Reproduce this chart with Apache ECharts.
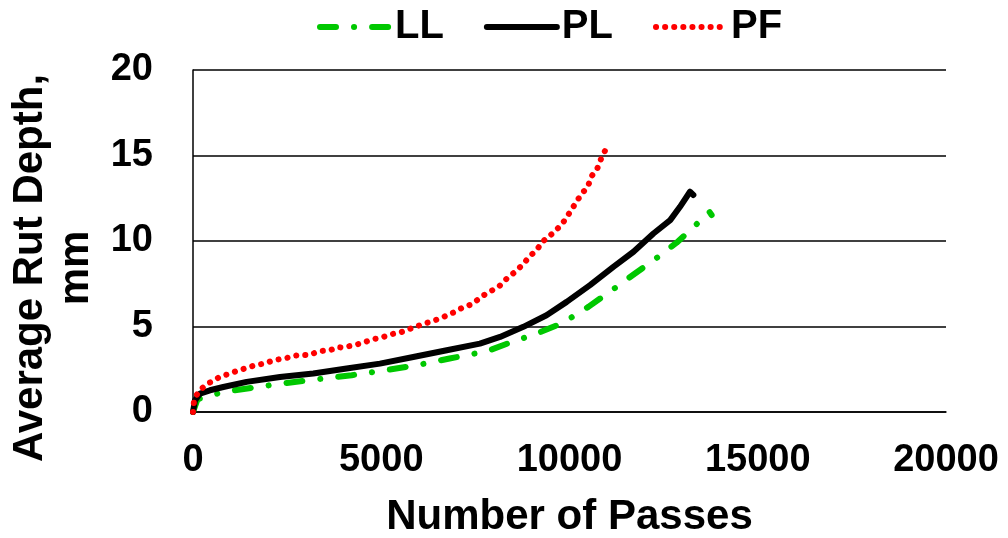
<!DOCTYPE html>
<html>
<head>
<meta charset="utf-8">
<script src="https://cdn.jsdelivr.net/npm/echarts@6/dist/echarts.min.js"></script>
<style>
  html, body { margin: 0; padding: 0; background: #fff; }
  #chart { width: 1008px; height: 538px; }
</style>
</head>
<body>
<div id="chart"></div>
<script>
// Rut depth vs passes, three mixes.
const llPasses = [0, 120, 805, 1690, 2490, 3240, 4215, 5100, 5940, 6815, 7490, 7800, 8400, 9085, 9820, 10500, 11190, 11740, 12300, 12845, 13290, 13715, 13775];
const llDepth  = [0, 0.75, 1.17, 1.46, 1.7, 1.9, 2.15, 2.44, 2.73, 3.13, 3.42, 3.55, 4.04, 4.55, 5.21, 6.15, 7.22, 8.1, 8.98, 9.9, 10.8, 11.71, 11.52];

const plPasses = [0, 53, 186, 450, 805, 1425, 2310, 3195, 4080, 4965, 5850, 6740, 7620, 8155, 8775, 9390, 9925, 10545, 11165, 11700, 12230, 12675, 12935, 13200, 13290];
const plDepth  = [0, 0.68, 1.08, 1.27, 1.46, 1.76, 2.05, 2.25, 2.54, 2.83, 3.22, 3.61, 4.0, 4.39, 4.98, 5.66, 6.44, 7.42, 8.49, 9.37, 10.44, 11.22, 12.0, 12.88, 12.69];

const pfPasses = [0, 30, 160, 380, 540, 735, 920, 1115, 1290, 1495, 1715, 1910, 2135, 2310, 2490, 2665, 2885, 3065, 3265, 3420, 3640, 3840, 3975, 4240, 4505, 4745, 5010, 5275, 5540, 5835, 6115, 6410, 6720, 6940, 7180, 7420, 7650, 7890, 8110, 8330, 8535, 8755, 8925, 9130, 9305, 9465, 9615, 9820, 9995, 10175, 10330, 10475, 10590, 10740, 10855, 10950];
const pfDepth  = [0, 0.73, 1.23, 1.66, 1.82, 2.09, 2.2, 2.36, 2.48, 2.63, 2.77, 2.83, 3.03, 3.09, 3.16, 3.28, 3.36, 3.32, 3.48, 3.57, 3.61, 3.79, 3.77, 3.89, 4.04, 4.24, 4.36, 4.55, 4.68, 4.92, 5.15, 5.35, 5.62, 5.84, 6.13, 6.31, 6.73, 7.05, 7.3, 7.79, 8.16, 8.61, 9.06, 9.49, 10.0, 10.29, 10.56, 11.05, 11.63, 12.26, 12.79, 13.12, 13.8, 14.25, 14.9, 15.3];

const xTicks = [0, 5000, 10000, 15000, 20000];
const yTicks = [0, 5, 10, 15, 20];

const FONT = '"Liberation Sans", Arial, sans-serif';
const pairs = (xs, ys) => xs.map((x, i) => [x, ys[i]]);

const chart = echarts.init(document.getElementById('chart'), null, { renderer: 'canvas' });

const styles = {
  LL: { color: '#00c800', type: [16, 18, 0.1, 18] },
  PL: { color: '#000000', type: 'solid' },
  PF: { color: '#ff0000', type: [0.1, 9] },
};
const mkLine = (name, data) => ({
  name, type: 'line', data,
  symbol: 'none', smooth: false, animation: false,
  lineStyle: { color: styles[name].color, width: 6, type: styles[name].type, cap: 'round', join: 'round' },
  itemStyle: { color: styles[name].color },
});

chart.setOption({
  animation: false,
  backgroundColor: '#fff',
  textStyle: { fontFamily: FONT },
  legend: {
    top: 2, left: 312,
    itemWidth: 70, itemHeight: 20, itemGap: 40,
    itemStyle: { opacity: 0 },
    lineStyle: { width: 6 },
    textStyle: { fontFamily: FONT, fontSize: 40, fontWeight: 'bold', color: '#000' },
    data: ['LL', 'PL', 'PF'],
  },
  // fixed plot box; don't let v6 shrink it to fit the big axis titles
  grid: { left: 193, right: 62, top: 70, bottom: 126, outerBoundsMode: 'none', containLabel: false },
  xAxis: {
    type: 'value', min: xTicks[0], max: xTicks[xTicks.length - 1], interval: xTicks[1] - xTicks[0],
    name: 'Number of Passes', nameLocation: 'middle', nameGap: 84,
    nameTextStyle: { fontFamily: FONT, fontSize: 42, fontWeight: 'bold', color: '#000' },
    axisLine: { show: true, lineStyle: { color: '#000', width: 1.5 } },
    axisTick: { show: false },
    splitLine: { show: false },
    axisLabel: { margin: 30, fontFamily: FONT, fontSize: 38, fontWeight: 'bold', color: '#000', formatter: (v) => String(v) },
  },
  yAxis: {
    type: 'value', min: yTicks[0], max: yTicks[yTicks.length - 1], interval: yTicks[1] - yTicks[0],
    name: 'Average Rut Depth,\nmm', nameLocation: 'middle', nameGap: 84, nameRotate: 90,
    nameTextStyle: { fontFamily: FONT, fontSize: 42, fontWeight: 'bold', color: '#000', lineHeight: 46, align: 'center', padding: [0, 54, 0, 0] },
    axisLine: { show: true, lineStyle: { color: '#000', width: 1.5 } },
    axisTick: { show: false },
    splitLine: { show: true, lineStyle: { color: '#000', width: 1.5 } },
    axisLabel: { margin: 40, fontFamily: FONT, fontSize: 38, fontWeight: 'bold', color: '#000' },
  },
  series: [
    mkLine('LL', pairs(llPasses, llDepth)),
    mkLine('PL', pairs(plPasses, plDepth)),
    mkLine('PF', pairs(pfPasses, pfDepth)),
  ],
});
</script>
</body>
</html>
